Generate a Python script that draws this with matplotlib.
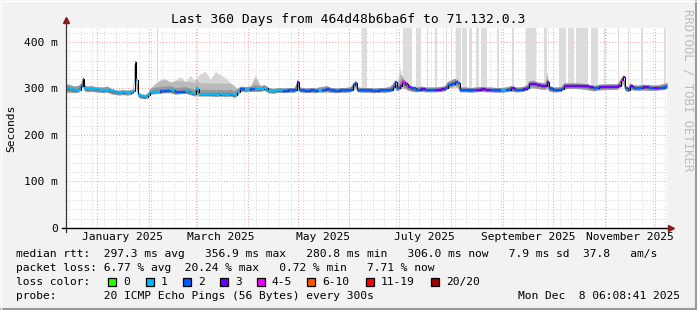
import datetime as dt
import numpy as np
import matplotlib
matplotlib.use("Agg")
import matplotlib.pyplot as plt
import matplotlib.dates as mdates
from matplotlib.lines import Line2D
from matplotlib.patches import Rectangle

# time range
start = dt.datetime(2024, 12, 13, 6, 8, 41)
span_days = 360

# days since start, median rtt (ms), lost pings (of 20), smoke top / bottom (ms)
days = [0, 2.4, 4.8, 7.2, 9.0, 9.9, 10.8, 12.6, 15.0, 17.4, 19.8, 22.2, 24.6, 27.0, 29.4,
        31.8, 34.2, 36.6, 39.0, 40.2, 41.1, 42.0, 43.2, 45.0, 47.4, 49.2, 50.4, 53.4, 56.4,
        59.4, 62.4, 65.4, 68.4, 71.4, 74.4, 76.8, 78.0, 79.8, 83.4, 86.4, 89.4, 92.4, 95.4,
        98.4, 100.8, 102.6, 104.4, 107.4, 110.4, 113.4, 116.4, 118.8, 121.2, 124.2, 127.2,
        130.2, 133.2, 136.8, 138.6, 139.8, 143.4, 146.4, 149.4, 151.2, 153.6, 156.0, 158.4,
        161.4, 164.4, 167.4, 170.4, 172.2, 173.4, 174.6, 177.6, 180.6, 183.6, 187.2, 190.8,
        193.8, 195.6, 196.8, 198.0, 199.8, 201.0, 202.8, 204.6, 206.4, 209.4, 212.4, 215.4,
        218.4, 221.4, 224.4, 226.8, 228.6, 230.4, 232.8, 234.6, 235.8, 239.4, 242.4, 245.4,
        248.4, 251.4, 254.4, 257.4, 260.4, 263.4, 266.4, 268.8, 271.2, 273.6, 276.0, 277.2,
        279.6, 282.0, 284.4, 286.8, 288.0, 289.2, 291.6, 294.0, 296.4, 298.2, 301.2, 305.4,
        309.6, 313.2, 316.2, 319.2, 323.4, 327.6, 330.6, 332.4, 333.6, 334.8, 336.6, 337.8,
        339.6, 342.6, 345.6, 349.2, 352.2, 355.2, 358.2, 360.0]
median_ms = [300, 298, 296, 297, 305, 320, 302, 298, 299, 298, 297, 296, 297, 294, 292,
             291, 292, 291, 292, 295, 357, 318, 287, 283, 281, 285, 292, 293, 294,
             295, 296, 292, 293, 294, 291, 288, 298, 288, 288, 288, 287, 288, 287,
             288, 285, 292, 299, 297, 298, 299, 298, 302, 295, 294, 296,
             295, 296, 296, 313, 297, 295, 296, 295, 297, 296, 298, 296,
             295, 296, 296, 297, 308, 311, 297, 296, 296, 295, 296, 296,
             297, 303, 313, 300, 305, 313, 309, 303, 300, 297, 299, 297,
             297, 297, 298, 300, 308, 310, 314, 312, 297, 297, 296, 297,
             298, 297, 297, 296, 296, 297, 300, 297, 297, 298, 301, 309,
             310, 307, 306, 305, 313, 300, 297, 297, 298, 305, 306, 306,
             305, 303, 300, 303, 304, 304, 305, 318, 325, 301, 297, 306,
             302, 301, 303, 302, 301, 302, 304, 306]
loss_pings = [1, 1, 1, 1, 2, 2, 1, 1, 1, 1, 1, 1, 1, 1, 1,
              1, 1, 1, 1, 1, 1, 1, 1, 1, 1, 1, 1, 1, 2,
              2, 1, 2, 2, 1, 1, 1, 1, 1, 1, 1, 1, 1, 1,
              1, 1, 1, 2, 1, 2, 1, 1, 1, 1, 1, 1,
              2, 2, 2, 3, 2, 2, 2, 2, 1, 2, 2, 2,
              2, 2, 2, 2, 2, 2, 2, 2, 2, 2, 2, 2,
              2, 2, 2, 2, 3, 4, 3, 3, 2, 2, 3, 2,
              2, 3, 3, 2, 2, 2, 2, 2, 2, 2, 2, 3,
              3, 3, 2, 2, 1, 2, 3, 2, 2, 3, 2, 3,
              3, 3, 3, 3, 3, 2, 2, 2, 2, 3, 3, 3,
              3, 3, 2, 3, 3, 3, 3, 4, 3, 2, 2, 3,
              2, 2, 3, 2, 3, 2, 2, 2]
smoke_top = [310, 308, 305, 306, 312, 324, 308, 305, 306, 304, 303, 303, 305, 300, 297,
             296, 297, 296, 297, 300, 360, 322, 292, 288, 287, 292, 300, 310, 318,
             322, 314, 318, 326, 315, 328, 318, 322, 330, 337, 320, 336, 330, 323,
             312, 305, 300, 305, 304, 305, 330, 306, 308, 302, 300, 302,
             301, 302, 302, 318, 303, 301, 302, 301, 303, 304, 306, 302,
             301, 302, 302, 304, 314, 316, 303, 302, 302, 301, 302, 302,
             304, 310, 318, 306, 346, 330, 318, 312, 306, 303, 305, 303,
             303, 303, 304, 306, 315, 318, 322, 318, 303, 303, 302, 303,
             304, 303, 303, 302, 302, 303, 306, 303, 303, 304, 308, 316,
             318, 314, 313, 312, 335, 306, 303, 303, 304, 312, 312, 312,
             311, 309, 306, 309, 310, 310, 311, 323, 328, 307, 303, 312,
             308, 307, 309, 308, 307, 308, 311, 312]
smoke_bottom = [292, 292, 291, 292, 298, 305, 296, 293, 294, 293, 292, 291, 292, 289, 287,
                286, 287, 286, 287, 290, 340, 300, 282, 279, 278, 281, 288, 289, 290,
                291, 291, 288, 289, 290, 287, 284, 284, 284, 284, 284, 283, 284, 283,
                284, 281, 285, 294, 293, 294, 294, 294, 296, 291, 290, 292,
                291, 292, 292, 296, 293, 291, 292, 291, 293, 292, 293, 292,
                291, 292, 292, 293, 298, 300, 293, 292, 292, 291, 292, 292,
                293, 296, 300, 295, 298, 300, 300, 297, 295, 293, 294, 293,
                293, 293, 294, 295, 300, 302, 304, 302, 293, 293, 292, 293,
                294, 293, 293, 292, 292, 293, 295, 293, 293, 294, 296, 300,
                301, 300, 299, 298, 300, 295, 293, 293, 294, 299, 300, 300,
                299, 297, 295, 297, 298, 298, 299, 305, 310, 296, 293, 298,
                297, 296, 297, 296, 296, 297, 298, 300]

# periods where the smoke runs off the top of the graph (start day, end day)
gap_start = [54.6, 177.4, 201.8, 209.4, 216.0, 221.0, 227.4, 230.4, 233.4, 237.4, 241.4,
             245.4, 248.4, 258.4, 267.0, 275.4, 286.4, 295.4, 300.4, 305.4, 314.4, 322.2,
             330.4, 336.4, 344.4, 358.4]
gap_end = [55.2, 180.4, 207.4, 212.4, 216.8, 222.4, 228.0, 231.0, 236.4, 240.4, 243.4,
           247.4, 252.4, 259.4, 268.4, 281.4, 288.4, 299.4, 304.4, 312.4, 318.4, 322.8,
           331.4, 337.4, 345.4, 359.4]

loss_labels = ["0", "1", "2", "3", "4-5", "6-10", "11-19", "20/20"]
loss_colors = ["#26ff00", "#00b8ff", "#0059ff", "#6a00ff", "#ee00ff", "#ff5500", "#ff0000", "#a00000"]

MONO = "DejaVu Sans Mono"
W, H = 697, 310
FS = 8.15


def loss_color(n):
    if n <= 3:
        return loss_colors[n]
    if n <= 5:
        return loss_colors[4]
    if n <= 10:
        return loss_colors[5]
    if n <= 19:
        return loss_colors[6]
    return loss_colors[7]


def ftext(x, y, s, **kw):
    # place text using pixel coords (origin top-left)
    kw.setdefault("family", MONO)
    kw.setdefault("fontsize", FS)
    kw.setdefault("va", "center")
    fig.text(x / W, 1 - y / H, s, **kw)


fig = plt.figure(figsize=(W / 100, H / 100), dpi=100, facecolor="#f2f2f2")
ax = fig.add_axes([66 / W, 82 / H, 601 / W, 200 / H])
ax.set_facecolor("white")

t0 = mdates.date2num(start)
x = t0 + np.array(days)
med = np.array(median_ms, dtype=float)
top = np.array(smoke_top, dtype=float)
bot = np.array(smoke_bottom, dtype=float)

ymax = 430
ax.set_xlim(t0, t0 + span_days)
ax.set_ylim(0, ymax)

# grid
dots = (0, (1, 2))
for v in range(20, ymax, 20):
    if v % 100:
        ax.axhline(v, color="#d4d4d4", lw=0.7, ls=dots, zorder=1)
for v in range(100, ymax, 100):
    ax.axhline(v, color="#f29a9a", lw=0.7, ls=dots, zorder=1)
end = start + dt.timedelta(days=span_days)
d = start + dt.timedelta(days=(6 - start.weekday()) % 7)
d = d.replace(hour=0, minute=0, second=0)
while d < end:
    ax.axvline(mdates.date2num(d), color="#d4d4d4", lw=0.7, ls=dots, zorder=1)
    d += dt.timedelta(days=7)
month_starts = []
y_, m_ = 2025, 1
while dt.datetime(y_, m_, 1) < end:
    month_starts.append(dt.datetime(y_, m_, 1))
    m_ += 1
    if m_ > 12:
        y_, m_ = y_ + 1, 1
for ms in month_starts:
    ax.axvline(mdates.date2num(ms), color="#f29a9a", lw=0.7, ls=dots, zorder=1)

# smoke running off the top
for s, e in zip(gap_start, gap_end):
    ax.bar(t0 + s, ymax - 302, bottom=302, width=e - s, align="edge",
           color="#dcdcdc", lw=0, zorder=2)

# smoke bands: outliers light, dense pings near the median dark
shades = ["#d6d6d6", "#bababa", "#989898", "#6c6c6c"]
caps = [1000, 24, 10, 3]
for c, cap in zip(shades, caps):
    up = np.minimum(top - med, cap)
    dn = np.minimum(med - bot, cap * 0.7)
    ax.fill_between(x, med - dn, med + up, color=c, lw=0, zorder=3)

# median: black steps with coloured level pieces
ax.plot(x, med, drawstyle="steps-post", color="black", lw=0.75, zorder=4)
cols = [loss_color(n) for n in loss_pings]
ax.hlines(med[:-1], x[:-1], x[1:], colors=cols[:-1], lw=1.7, zorder=5)

# axes lines and arrows
for sp in ax.spines.values():
    sp.set_visible(False)
ax.plot([0, 0], [-0.02, 1.035], transform=ax.transAxes, color="#333333", lw=0.9, clip_on=False, zorder=6)
ax.plot([-0.007, 1.004], [0, 0], transform=ax.transAxes, color="black", lw=1.0, clip_on=False, zorder=6)
ax.plot([0], [1.04], marker="^", ms=5, color="#8b1a1a", transform=ax.transAxes, clip_on=False, zorder=7)
ax.plot([1.006], [0], marker=">", ms=5, color="#8b1a1a", transform=ax.transAxes, clip_on=False, zorder=7)

# tick labels
ax.set_yticks([0, 100, 200, 300, 400])
ax.set_yticklabels(["0", "100 m", "200 m", "300 m", "400 m"], family=MONO, fontsize=FS)
label_months = [dt.datetime(2025, m, 1) for m in (1, 3, 5, 7, 9, 11)]
ax.set_xticks([mdates.date2num(m + dt.timedelta(days=15)) for m in label_months])
ax.set_xticklabels([m.strftime("%B %Y") for m in label_months], family=MONO, fontsize=FS)
ax.tick_params(axis="y", length=0, pad=6)
ax.tick_params(axis="x", length=0, pad=3)

# title and labels
ftext(348, 19, "Last 360 Days from 464d48b6ba6f to 71.132.0.3", fontsize=9.4, ha="center")
ftext(11, 128, "Seconds", rotation=90, ha="center")
ftext(688, 90, "RRDTOOL / TOBI OETIKER", rotation=270, ha="center", color="#bdbdbd", fontsize=8.8)

# legend rows
ftext(16, 254, "median rtt:  297.3 ms avg   356.9 ms max   280.8 ms min   "
               "306.0 ms now   7.9 ms sd  37.8   am/s")
ftext(16, 268, "packet loss: 6.77 % avg  20.24 % max   0.72 % min   7.71 % now")
ftext(16, 296, "probe:       20 ICMP Echo Pings (56 Bytes) every 300s")
ftext(680, 296, "Mon Dec  8 06:08:41 2025", ha="right")
ftext(16, 282, "loss color:")
box_x = [108, 146, 183, 220, 257, 307, 366, 431]
for bx, lab, c in zip(box_x, loss_labels, loss_colors):
    fig.add_artist(Rectangle((bx / W, 1 - 286 / H), 8 / W, 8 / H, transform=fig.transFigure,
                             facecolor=c, edgecolor="black", lw=0.9))
    ftext(bx + 15, 282, lab)

# 3d frame
fig.add_artist(Line2D([1 - 1.5 / W, 1 - 1.5 / W], [0, 1], transform=fig.transFigure, color="#9a9a9a", lw=2.2))
fig.add_artist(Line2D([0, 1], [1.5 / H, 1.5 / H], transform=fig.transFigure, color="#9a9a9a", lw=2.2))
fig.add_artist(Line2D([0.5 / W, 0.5 / W], [0, 1], transform=fig.transFigure, color="#ffffff", lw=1.0))
fig.add_artist(Line2D([0, 1], [1 - 0.5 / H, 1 - 0.5 / H], transform=fig.transFigure, color="#ffffff", lw=1.0))

fig.savefig("out.png", dpi=100, facecolor=fig.get_facecolor())
